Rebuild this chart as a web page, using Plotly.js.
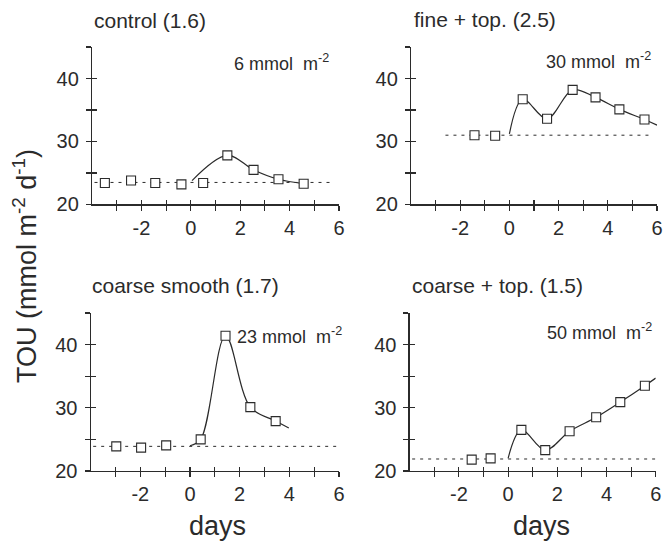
<!DOCTYPE html>
<html>
<head>
<meta charset="utf-8">
<script src="https://cdn.plot.ly/plotly-3.0.1.min.js"></script>
<style>html,body{margin:0;padding:0;background:#fff}#chart{width:664px;height:544px}</style>
</head>
<body>
<div id="chart"></div>
<script>
// ---- data ----
const panelTitles = ["control (1.6)", "fine + top. (2.5)", "coarse smooth (1.7)", "coarse + top. (1.5)"];
const doseLabels = ["6 mmol  m<sup>-2</sup>", "30 mmol  m<sup>-2</sup>", "23 mmol  m<sup>-2</sup>", "50 mmol  m<sup>-2</sup>"];

const ctrlX = [-3.48, -2.42, -1.44, -0.38, 0.5, 1.48, 2.54, 3.55, 4.57];
const ctrlY = [23.4, 23.8, 23.4, 23.2, 23.4, 27.8, 25.5, 24.0, 23.3];
const ctrlCurveX = [0.05, 1.48, 2.54, 3.55, 4.57];
const ctrlCurveY = [23.8, 27.8, 25.5, 24.0, 23.3];
const ctrlBaseX = [-3.9, 5.7];
const ctrlBaseY = [23.5, 23.5];

const fineX = [-1.42, -0.58, 0.54, 1.53, 2.57, 3.5, 4.47, 5.49];
const fineY = [31.0, 30.9, 36.7, 33.6, 38.2, 37.0, 35.1, 33.5];
const fineCurveX = [0.0, 0.54, 1.53, 2.57, 3.5, 4.47, 5.49, 6.0];
const fineCurveY = [31.2, 36.7, 33.6, 38.2, 37.0, 35.1, 33.5, 32.6];
const fineBaseX = [-2.6, 5.7];
const fineBaseY = [31.0, 31.0];

const smoothX = [-2.97, -1.97, -0.96, 0.43, 1.43, 2.43, 3.45];
const smoothY = [23.9, 23.7, 24.05, 25.0, 41.4, 30.1, 27.9];
const smoothCurveX = [0.0, 0.43, 1.43, 2.43, 3.45, 3.98];
const smoothCurveY = [24.0, 25.0, 41.4, 30.1, 27.9, 26.8];
const smoothBaseX = [-3.9, 5.9];
const smoothBaseY = [23.9, 23.9];

const ctopX = [-1.48, -0.71, 0.54, 1.51, 2.5, 3.58, 4.56, 5.56];
const ctopY = [21.8, 22.0, 26.5, 23.3, 26.3, 28.5, 30.9, 33.5];
const ctopCurveX = [0.0, 0.54, 1.51, 2.5, 3.58, 4.56, 5.56, 6.0];
const ctopCurveY = [22.0, 26.5, 23.3, 26.3, 28.5, 30.9, 33.5, 34.7];
const ctopBaseX = [-3.9, 6.0];
const ctopBaseY = [21.9, 21.9];

const doseX = [1.67, 1.42, 1.8, 1.49];
const doseY = [42.5, 42.9, 41.5, 42.1];

const xMajorTicks = [-2, 0, 2, 4, 6];
const xMajorText = ["-2", "0", "2", "4", "6"];
const xMinorTicks = [-3, -1, 1, 3, 5];
const yMajorTicks = [20, 30, 40];
const yMajorText = ["20", "30", "40"];
const yMinorTicks = [25, 35, 45];
const yTitle = "TOU (mmol m<sup>-2</sup> d<sup>-1</sup>)";
const xTitle = "days";

// ---- build ----
const ink = "#2b2b2b";
const FONT = "Liberation Sans, Arial, sans-serif";
const panels = [
  {mx: ctrlX, my: ctrlY, cx: ctrlCurveX, cy: ctrlCurveY, bx: ctrlBaseX, by: ctrlBaseY},
  {mx: fineX, my: fineY, cx: fineCurveX, cy: fineCurveY, bx: fineBaseX, by: fineBaseY},
  {mx: smoothX, my: smoothY, cx: smoothCurveX, cy: smoothCurveY, bx: smoothBaseX, by: smoothBaseY},
  {mx: ctopX, my: ctopY, cx: ctopCurveX, cy: ctopCurveY, bx: ctopBaseX, by: ctopBaseY}
];
const xDomains = [[0.1386, 0.5105], [0.619, 0.9895], [0.1366, 0.5105], [0.617, 0.9875]];
const yDomains = [[0.6241, 0.9136], [0.6241, 0.9136], [0.1342, 0.4246], [0.1342, 0.4246]];

const traces = [];
const layout = {
  width: 664, height: 544,
  margin: {l: 0, r: 0, t: 0, b: 0},
  paper_bgcolor: "#fff", plot_bgcolor: "rgba(0,0,0,0)",
  showlegend: false,
  font: {family: FONT, color: ink},
  annotations: []
};

panels.forEach((p, i) => {
  const n = i + 1;
  const xs = n === 1 ? "x" : "x" + n;
  const ys = n === 1 ? "y" : "y" + n;
  const oxs = "x" + (n + 4), oys = "y" + (n + 4);
  // invisible carrier on the twin (tick-only) subplot
  traces.push({x: p.mx, y: p.my, xaxis: oxs, yaxis: oys, mode: "markers", marker: {opacity: 0}, hoverinfo: "skip"});
  traces.push({x: p.bx, y: p.by, xaxis: xs, yaxis: ys, mode: "lines", cliponaxis: false,
    line: {color: ink, width: 1, dash: "3px,5px"}, hoverinfo: "skip"});
  traces.push({x: p.cx, y: p.cy, xaxis: xs, yaxis: ys, mode: "lines", cliponaxis: false,
    line: {color: ink, width: 1.2, shape: "spline", smoothing: 1}, hoverinfo: "skip"});
  traces.push({x: p.mx, y: p.my, xaxis: xs, yaxis: ys, mode: "markers", cliponaxis: false,
    marker: {symbol: "square", size: 9, color: "#fff", line: {color: ink, width: 1.1}}});

  const common = {showgrid: false, zeroline: false, ticklen: 5, tickwidth: 1.1, tickcolor: ink,
    fixedrange: true};
  layout["xaxis" + (n === 1 ? "" : n)] = Object.assign({}, common, {
    domain: xDomains[i], anchor: ys, range: [-4, 6], showline: true, linecolor: ink, linewidth: 1.2,
    ticks: "outside", tickmode: "array", tickvals: xMajorTicks, ticktext: xMajorText,
    minor: {tickmode: "array", tickvals: xMinorTicks, ticks: "outside", ticklen: 5, tickwidth: 1.1, tickcolor: ink, showgrid: false},
    tickfont: {size: 20, family: FONT, color: ink}
  });
  layout["yaxis" + (n === 1 ? "" : n)] = Object.assign({}, common, {
    domain: yDomains[i], anchor: xs, range: [20, 45], showline: true, linecolor: ink, linewidth: 1.2,
    ticks: "outside", tickmode: "array", tickvals: yMajorTicks, ticktext: yMajorText,
    minor: {tickmode: "array", tickvals: yMinorTicks, ticks: "outside", ticklen: 5, tickwidth: 1.1, tickcolor: ink, showgrid: false},
    tickfont: {size: 20, family: FONT, color: ink}, ticklabelstandoff: 3
  });
  // twin axes on the same domain: the inner halves of the crossing ticks
  layout["xaxis" + (n + 4)] = Object.assign({}, common, {domain: xDomains[i], anchor: oys, side: "bottom", range: [-4, 6],
    showline: false, ticks: "inside", ticklen: 4, tickmode: "array", tickvals: xMajorTicks.concat(xMinorTicks), showticklabels: false});
  layout["yaxis" + (n + 4)] = Object.assign({}, common, {domain: yDomains[i], anchor: oxs, side: "left", range: [20, 45],
    showline: false, ticks: "inside", tickmode: "array", tickvals: yMajorTicks.concat(yMinorTicks), showticklabels: false});

  layout.annotations.push({text: doseLabels[i], x: doseX[i], y: doseY[i], xref: xs, yref: ys,
    xanchor: "left", yanchor: "middle", showarrow: false, font: {size: 18, family: FONT, color: ink}});
});

const titlePos = [[0.1386, 0.963], [0.6205, 0.965], [0.1355, 0.476], [0.6175, 0.476]];
panelTitles.forEach((t, i) => {
  layout.annotations.push({text: t, x: titlePos[i][0], y: titlePos[i][1], xref: "paper", yref: "paper",
    xanchor: "left", yanchor: "middle", showarrow: false, font: {size: 21, family: FONT, color: ink}});
});
layout.annotations.push({text: yTitle, x: 25 / 664, y: 1 - 266 / 544, xref: "paper", yref: "paper",
  xanchor: "center", yanchor: "middle", textangle: -90, showarrow: false, font: {size: 27, family: FONT, color: ink}});
[217.5 / 664, 541 / 664].forEach(xp => {
  layout.annotations.push({text: xTitle, x: xp, y: 1 - 526 / 544, xref: "paper", yref: "paper",
    xanchor: "center", yanchor: "middle", showarrow: false, font: {size: 27, family: FONT, color: ink}});
});

Plotly.newPlot("chart", traces, layout, {staticPlot: true, displayModeBar: false});
</script>
</body>
</html>
